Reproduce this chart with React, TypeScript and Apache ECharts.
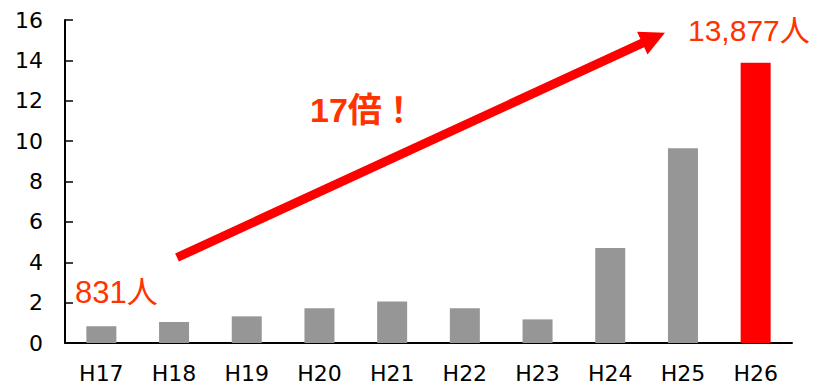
import React, { useEffect, useRef } from "react";
import * as echarts from "echarts";

const categories = ["H17", "H18", "H19", "H20", "H21", "H22", "H23", "H24", "H25", "H26"];
const values = [0.831, 1.04, 1.32, 1.72, 2.06, 1.72, 1.17, 4.7, 9.65, 13.877];
const highlightIndex = 9;
const startLabel = "831人";
const endLabel = "13,877人";
const ratioLabel = "17倍！";

const GRAY = "#969696";
const RED = "#ff0000";
const ORANGE = "#ff3300";
const NUM_FONT = "Liberation Sans, Noto Sans CJK JP, sans-serif";

function arrowPoints(sx: number, sy: number, tx: number, ty: number, shaftHalf: number, headHalf: number, headLen: number) {
  const dx = tx - sx;
  const dy = ty - sy;
  const len = Math.sqrt(dx * dx + dy * dy);
  const ux = dx / len;
  const uy = dy / len;
  const nx = -uy;
  const ny = ux;
  const bx = tx - ux * headLen;
  const by = ty - uy * headLen;
  return [
    [sx + nx * shaftHalf, sy + ny * shaftHalf],
    [bx + nx * shaftHalf, by + ny * shaftHalf],
    [bx + nx * headHalf, by + ny * headHalf],
    [tx, ty],
    [bx - nx * headHalf, by - ny * headHalf],
    [bx - nx * shaftHalf, by - ny * shaftHalf],
    [sx - nx * shaftHalf, sy - ny * shaftHalf],
  ];
}

export default function App() {
  const ref = useRef<HTMLDivElement>(null);
  useEffect(() => {
    if (!ref.current) return;
    const chart = echarts.init(ref.current, undefined, { renderer: "svg" });
    chart.setOption({
      animation: false,
      grid: { left: 65, right: 22, top: 20, bottom: 42, containLabel: false },
      xAxis: {
        type: "category",
        data: categories,
        axisLine: { lineStyle: { color: "#000", width: 2 } },
        axisTick: { inside: true, length: 7, lineStyle: { color: "#000", width: 1.5 } },
        axisLabel: { color: "#000", fontSize: 22, fontFamily: "DejaVu Sans", margin: 19 },
      },
      yAxis: {
        type: "value",
        min: 0,
        max: 16,
        interval: 2,
        axisLine: { show: true, lineStyle: { color: "#000", width: 2 } },
        axisTick: { show: true, inside: true, length: 8, lineStyle: { color: "#000", width: 1.5 } },
        splitLine: { show: false },
        axisLabel: { color: "#000", fontSize: 22, fontFamily: "DejaVu Sans", margin: 22 },
      },
      series: [
        {
          type: "bar",
          barWidth: 30,
          data: values.map((v, i) => ({
            value: v,
            itemStyle: { color: i === highlightIndex ? RED : GRAY },
          })),
        },
      ],
      graphic: [
        {
          type: "polygon",
          shape: { points: arrowPoints(177, 257.5, 665, 32.7, 4.5, 12.5, 25) },
          style: { fill: RED },
          z: 100,
        },
        {
          type: "text",
          x: 75,
          y: 292,
          style: { text: startLabel, fill: ORANGE, font: `31px ${NUM_FONT}`, textVerticalAlign: "middle" },
          z: 100,
        },
        {
          type: "text",
          x: 688,
          y: 30,
          style: { text: endLabel, fill: ORANGE, font: `30px ${NUM_FONT}`, textVerticalAlign: "middle" },
          z: 100,
        },
        {
          type: "text",
          x: 310,
          y: 110,
          style: { text: ratioLabel, fill: ORANGE, font: `bold 34px ${NUM_FONT}`, textVerticalAlign: "middle" },
          z: 100,
        },
      ],
    });
    return () => chart.dispose();
  }, []);
  return <div ref={ref} style={{ width: 814, height: 385, position: "absolute", left: 0, top: 0 }} />;
}
